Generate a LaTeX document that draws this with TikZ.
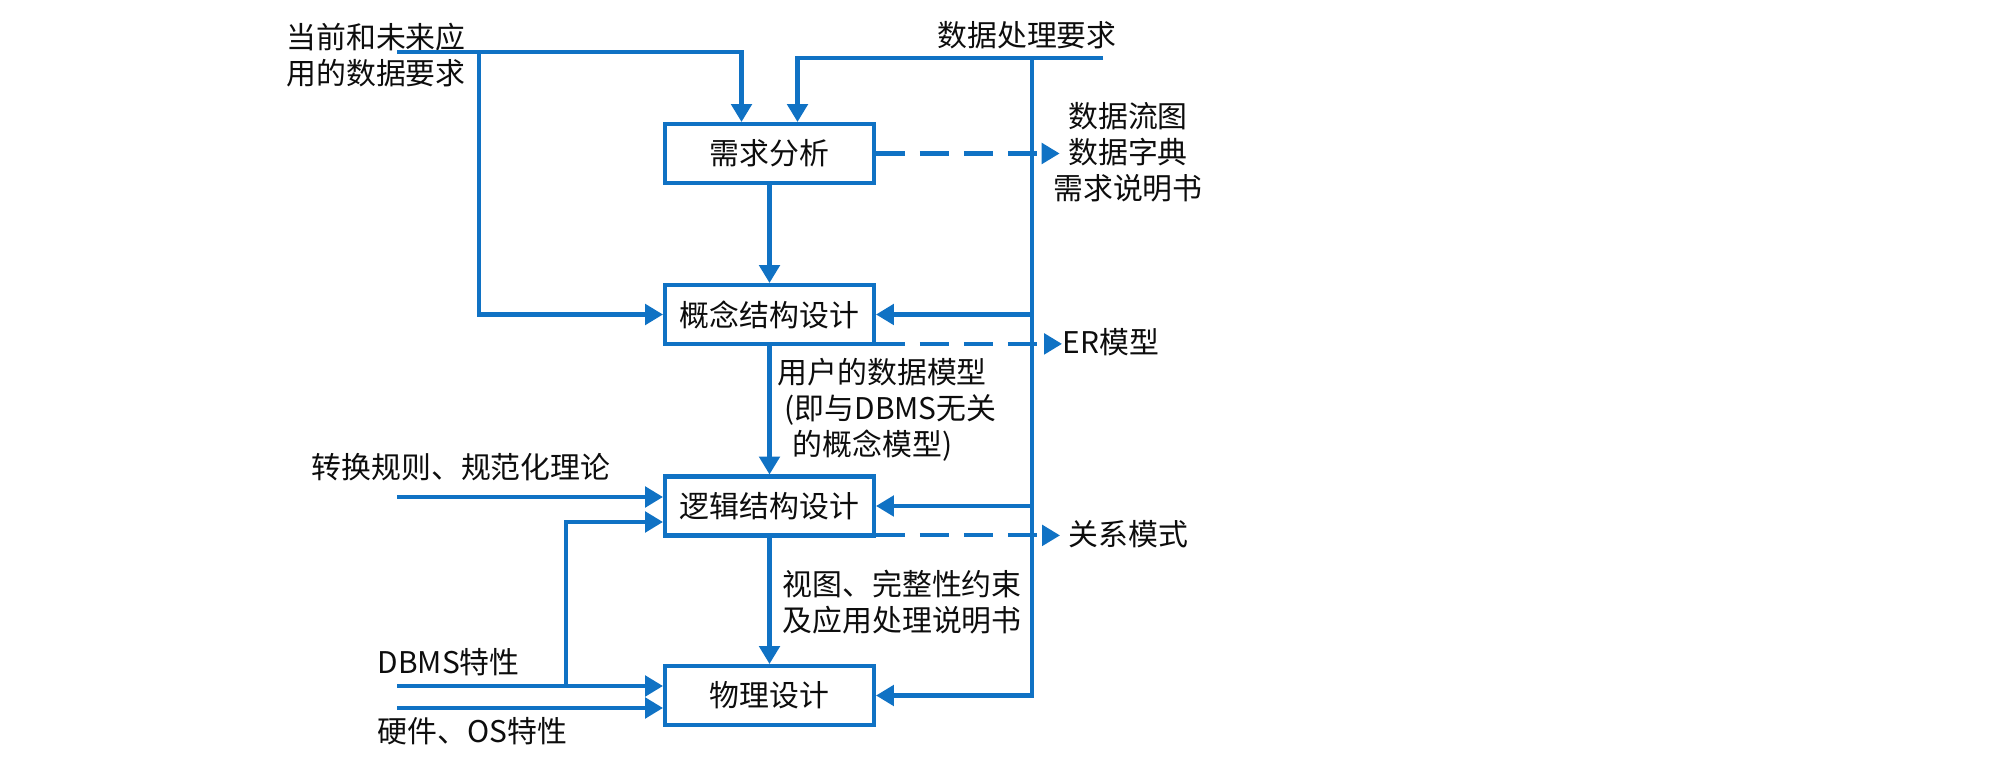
\documentclass[tikz,border=0pt]{standalone}
\usepackage{fontspec}
\setmainfont{Noto Sans CJK SC}
\usetikzlibrary{arrows.meta}
\definecolor{flowblue}{RGB}{16,114,196}

\begin{document}
\begin{tikzpicture}[x=0.1mm, y=-0.1mm,
    font=\fontsize{8.5}{10.3}\selectfont,
    stageBox/.style={rectangle, draw=flowblue, line width=1.15pt, fill=white, text=black!95, minimum width=20.9mm, minimum height=5.9mm, inner sep=0pt},
    flowArrow/.style={draw=flowblue, line width=1.15pt, -{Triangle[length=5.1pt,width=5.8pt]}},
    outDash/.style={flowArrow, dash pattern=on 8.2pt off 4.3pt},
    note/.style={inner sep=0pt, text=black!95, align=left}]

    \useasboundingbox (0,0) rectangle (2005,771);

    % Design stages
    \node[stageBox] (reqbox) at (769.5,153.5) {需求分析};
    \node[stageBox] (cbox) at (769.5,314.5) {概念结构设计};
    \node[stageBox] (lbox) at (769.5,506) {逻辑结构设计};
    \node[stageBox] (pbox) at (769.5,695.5) {物理设计};

    % Inputs
    \node[note] (need) at (376,55) {当前和未来应\\用的数据要求};
    \node[note] (proc) at (1027,35) {数据处理要求};
    \node[note] (rule) at (461,467) {转换规则、规范化理论};
    \node[note, anchor=west] (dbms) at (377,662) {DBMS特性};
    \node[note, anchor=west] (hw) at (377,731) {硬件、OS特性};

    % Outputs
    \node[note, align=center] (docs) at (1128,152) {数据流图\\数据字典\\需求说明书};
    \node[note, anchor=west] (er) at (1062,342) {ER模型};
    \node[note, anchor=west] (rel) at (1068,534) {关系模式};

    % Labels on the main flow
    \node[note, anchor=west] (cnote) at (777,410) {用户的数据模型\\\hspace{0.7mm}(即与DBMS无关\\\hspace{1.5mm}的概念模型)};
    \node[note, anchor=west] (lnote) at (782,602) {视图、完整性约束\\及应用处理说明书};

    % Free ends and branch points
    \coordinate (needOut) at (397,52);
    \coordinate (needBr) at (479,52);
    \coordinate (procOut) at (1103,58);
    \coordinate (procBr) at (1032,58);
    \coordinate (ruleOut) at (397,497);
    \coordinate (dbmsOut) at (397,686);
    \coordinate (dbmsBr) at (566,686);
    \coordinate (hwOut) at (397,708);

    % Requirement inputs
    \draw[flowArrow] (needOut) -| ([xshift=-2.8mm]reqbox.north);
    \draw[flowArrow] (needBr) |- (cbox.west);
    \draw[flowArrow] (procOut) -| ([xshift=2.8mm]reqbox.north);
    \draw[flowArrow] (procBr) |- (pbox.east);
    \draw[flowArrow] (procBr |- cbox.east) -- (cbox.east);
    \draw[flowArrow] (procBr |- lbox.east) -- (lbox.east);

    % Main flow
    \draw[flowArrow] (reqbox) -- (cbox);
    \draw[flowArrow] (cbox) -- (lbox);
    \draw[flowArrow] (lbox) -- (pbox);

    % Rules and system features
    \draw[flowArrow] (ruleOut) -- (ruleOut -| lbox.west);
    \draw[flowArrow] (dbmsOut) -- (dbmsOut -| pbox.west);
    \draw[flowArrow] (dbmsBr) |- ([yshift=-1.6mm]lbox.west);
    \draw[flowArrow] (hwOut) -- (hwOut -| pbox.west);

    % Documents produced
    \draw[outDash] (reqbox.east) -- ([xshift=0.7mm]reqbox.east -| docs.west);
    \draw[outDash] ([yshift=0.6pt]cbox.south east) -- ([yshift=0.6pt]cbox.south east -| er.west);
    \draw[outDash] ([yshift=0.6pt]lbox.south east) -- ([xshift=-0.8mm,yshift=0.6pt]lbox.south east -| rel.west);

\end{tikzpicture}
\end{document}
